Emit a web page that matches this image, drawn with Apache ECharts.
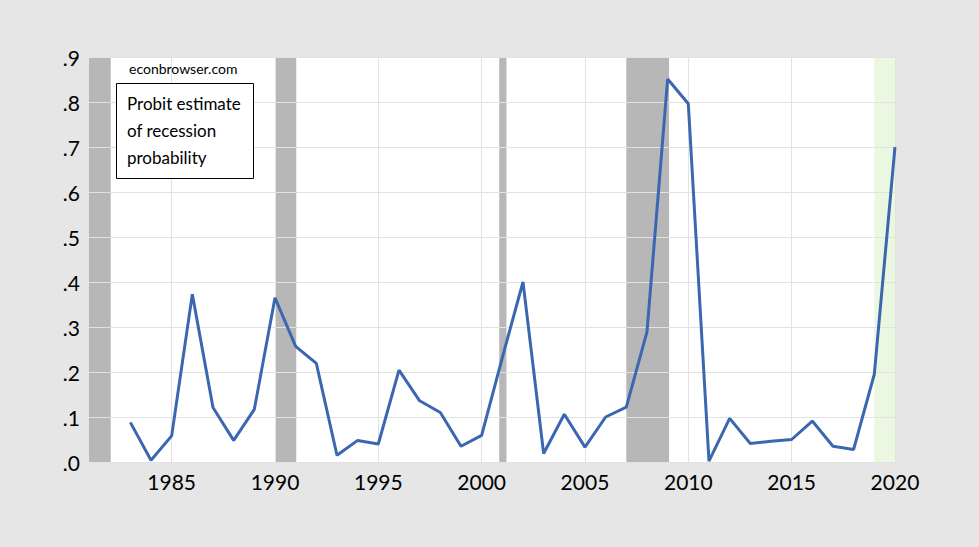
<!DOCTYPE html>
<html>
<head>
<meta charset="utf-8">
<script src="https://cdn.jsdelivr.net/npm/echarts@6/dist/echarts.min.js"></script>
<style>
html,body{margin:0;padding:0;background:#e6e6e6;}
#chart{width:979px;height:547px;}
</style>
</head>
<body>
<div id="chart"></div>
<script>
const years = [1983,1984,1985,1986,1987,1988,1989,1990,1991,1992,1993,1994,1995,1996,1997,1998,1999,2000,2001,2002,2003,2004,2005,2006,2007,2008,2009,2010,2011,2012,2013,2014,2015,2016,2017,2018,2019,2020];
const probit = [0.088,0.004,0.058,0.373,0.121,0.048,0.117,0.365,0.257,0.219,0.015,0.048,0.040,0.204,0.136,0.110,0.035,0.059,0.232,0.400,0.019,0.106,0.033,0.100,0.122,0.289,0.851,0.796,0.002,0.097,0.041,0.046,0.050,0.091,0.035,0.028,0.195,0.700];
const recessions = [[1981.0,1982.05],[1990.0,1991.03],[2000.85,2001.2],[2007.0,2009.07]];
const forecastShade = [[2019.0,2020.05]];
const xTickLabels = [1985,1990,1995,2000,2005,2010,2015,2020];
const yTickValues = [0,0.1,0.2,0.3,0.4,0.5,0.6,0.7,0.8,0.9];
const sourceText = 'econbrowser.com';
const boxLines = ['Probit estimate','of recession','probability'];

const FONT = 'Lato';
const chart = echarts.init(document.getElementById('chart'), null, {renderer:'svg'});
const option = {
  backgroundColor:'#e6e6e6',
  animation:false,
  grid:{left:89,right:83,top:57,bottom:85,show:true,backgroundColor:'#ffffff',borderWidth:0},
  xAxis:{
    type:'value', min:1981, max:2020.05, z:2,
    axisLine:{show:false},
    axisTick:{show:false, customValues:xTickLabels},
    axisLabel:{customValues:xTickLabels, color:'#000', fontFamily:FONT, fontSize:21, margin:9, formatter:v=>String(v)},
    splitLine:{show:true, lineStyle:{color:'#e2e2e2', width:1}}
  },
  yAxis:{
    type:'value', min:0, max:0.9, interval:0.1, z:2,
    axisLine:{show:false}, axisTick:{show:false},
    axisLabel:{color:'#000', fontFamily:FONT, fontSize:21, margin:9, formatter:v=>v.toFixed(1).replace(/^0/,'')},
    splitLine:{show:true, lineStyle:{color:'#e2e2e2', width:1}}
  },
  series:[
    {
      type:'line', z:1, data:[], silent:true,
      markArea:{silent:true, itemStyle:{color:'#b7b7b7'},
        data: recessions.map(r=>[{xAxis:r[0]},{xAxis:r[1]}])}
    },
    {
      type:'line', z:1, data:[], silent:true,
      markArea:{silent:true, itemStyle:{color:'#ebf8e1'},
        data: forecastShade.map(r=>[{xAxis:r[0]},{xAxis:r[1]}])}
    },
    {
      type:'line', z:3, symbol:'none',
      data: years.map((y,i)=>[y, probit[i]]),
      lineStyle:{color:'#3b67b0', width:3}
    }
  ],
  graphic:[
    {type:'text', left:129, top:61, z:10, style:{text:sourceText, font:'14px '+FONT, fill:'#000'}},
    {type:'rect', left:116, top:83, z:10, shape:{width:137, height:95}, style:{fill:'#fff', stroke:'#000', lineWidth:1}},
    {type:'text', left:127, top:90, z:11, style:{text:boxLines.join('\n'), font:'17px '+FONT, lineHeight:27, fill:'#000'}}
  ]
};
chart.setOption(option);
</script>
</body>
</html>
